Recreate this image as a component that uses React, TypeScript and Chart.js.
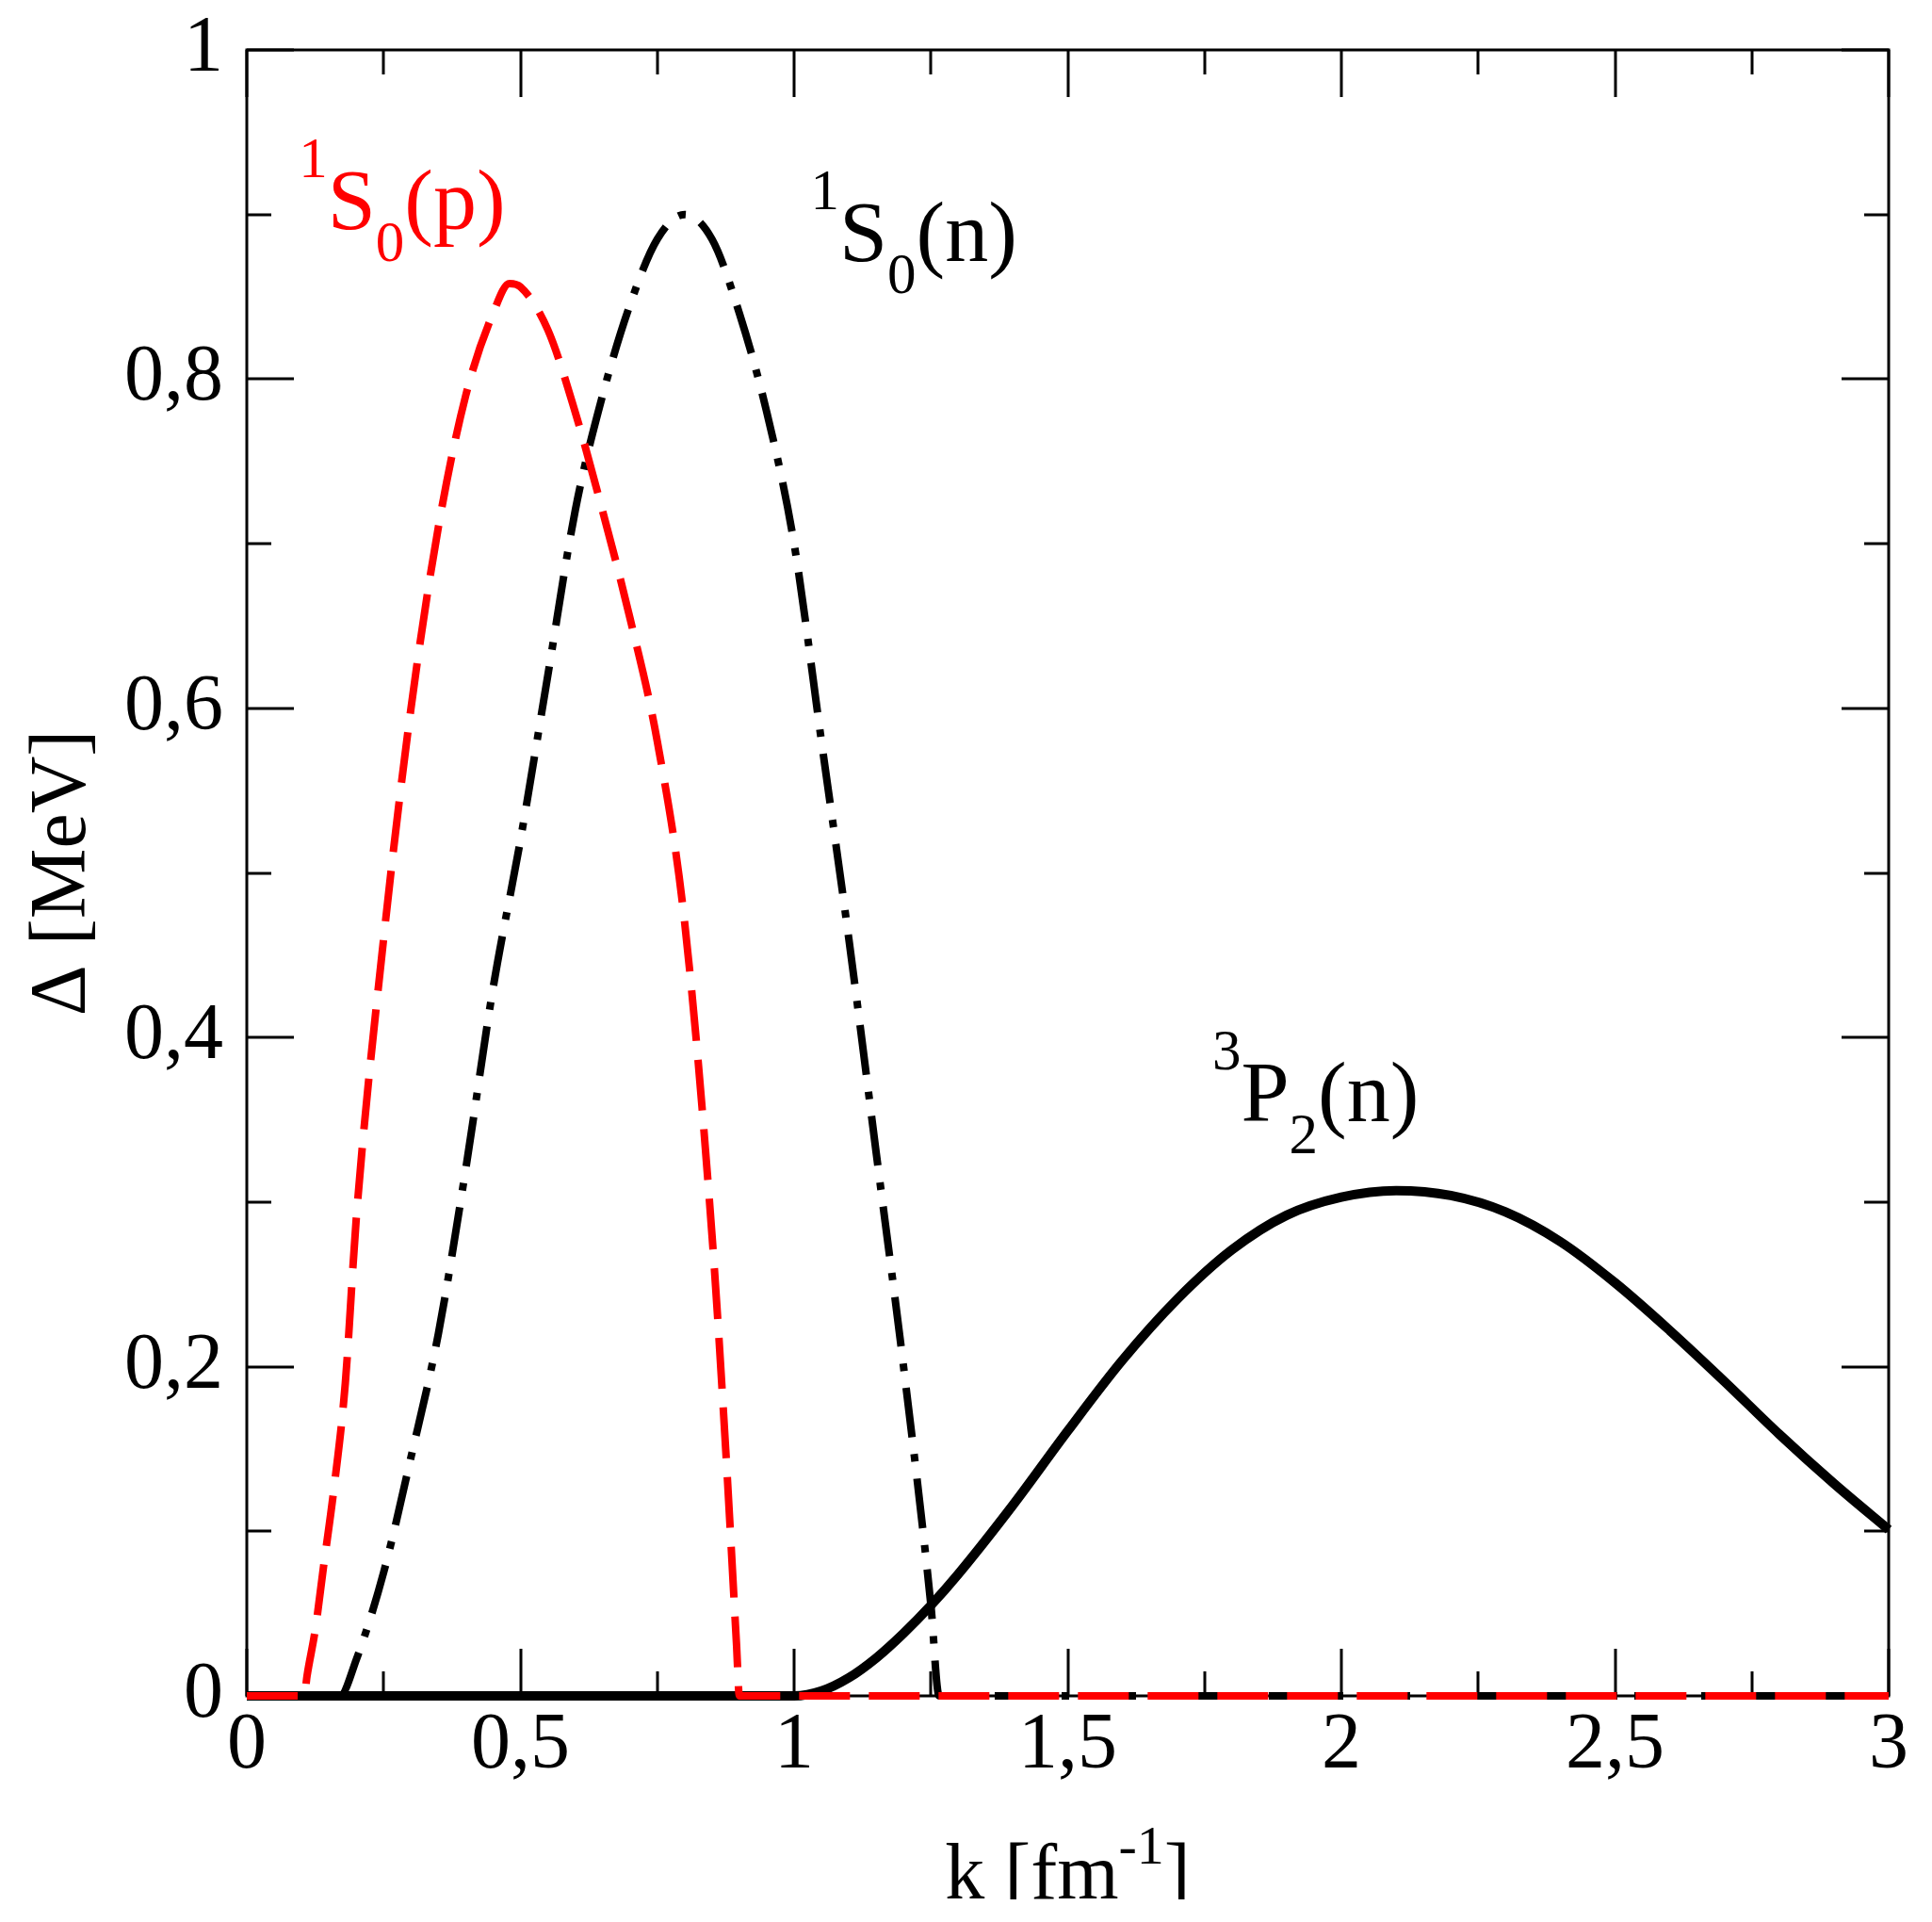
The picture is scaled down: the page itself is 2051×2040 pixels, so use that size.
import React, { useEffect, useRef } from "react";
import { Chart, registerables } from "chart.js";

Chart.register(...registerables);

const W = 2051;
const H = 2040;

// Tick labels (decimal comma as in the original)
const xTickLabels = ["0", "0,5", "1", "1,5", "2", "2,5", "3"];
const yTickLabels = ["0", "0,2", "0,4", "0,6", "0,8", "1"];

// 1S0 proton gap (red dashed)
const s0pK = [0, 0.105, 0.11, 0.125, 0.14, 0.16, 0.18, 0.2, 0.25, 0.3, 0.35, 0.4, 0.45, 0.48, 0.5, 0.55, 0.6, 0.65, 0.7, 0.75, 0.8, 0.85, 0.875, 0.895, 0.9, 3];
const s0pGap = [0, 0, 0.012, 0.04, 0.078, 0.128, 0.19, 0.29, 0.46, 0.6, 0.71, 0.79, 0.84, 0.858, 0.856, 0.83, 0.78, 0.72, 0.655, 0.58, 0.47, 0.28, 0.15, 0.03, 0, 0];

// 1S0 neutron gap (black dash-dot)
const s0nK = [0, 0.17, 0.2, 0.25, 0.3, 0.35, 0.4, 0.45, 0.5, 0.55, 0.6, 0.65, 0.7, 0.75, 0.8, 0.85, 0.9, 0.95, 1.0, 1.05, 1.1, 1.15, 1.2, 1.25, 1.265, 3];
const s0nGap = [0, 0, 0.022, 0.075, 0.145, 0.22, 0.32, 0.43, 0.52, 0.62, 0.72, 0.79, 0.845, 0.885, 0.9, 0.885, 0.84, 0.78, 0.7, 0.58, 0.46, 0.33, 0.2, 0.055, 0, 0];

// 3P2 neutron gap (black solid)
const p2nK = [0, 1.0, 1.05, 1.1, 1.15, 1.2, 1.25, 1.3, 1.4, 1.5, 1.6, 1.7, 1.8, 1.9, 2.0, 2.1, 2.2, 2.3, 2.4, 2.5, 2.6, 2.7, 2.8, 2.9, 3.0];
const p2nGap = [0, 0, 0.003, 0.011, 0.023, 0.038, 0.055, 0.074, 0.116, 0.161, 0.204, 0.241, 0.271, 0.292, 0.303, 0.307, 0.304, 0.294, 0.276, 0.251, 0.222, 0.191, 0.159, 0.129, 0.101];

// Curve labels: superscript, main letter, subscript, tail
const labelSup = ["1", "1", "3"];
const labelMain = ["S", "S", "P"];
const labelSub = ["0", "0", "2"];
const labelTail = ["(p)", "(n)", "(n)"];
const labelK = [0.095, 1.03, 1.764];
const labelY = [0.891, 0.872, 0.349];
const labelColor = ["#ff0000", "#000000", "#000000"];

const FONT = '"Liberation Serif", "Times New Roman", serif';

const toPts = (xs: number[], ys: number[]) => xs.map((x, i) => ({ x, y: ys[i] }));

type Part = { t: string; size: number; dy: number };

function drawParts(ctx: CanvasRenderingContext2D, x: number, y: number, parts: Part[]) {
  let cx = x;
  for (const p of parts) {
    ctx.font = `${p.size}px ${FONT}`;
    ctx.fillText(p.t, cx, y + p.dy);
    cx += ctx.measureText(p.t).width;
  }
}

function partsWidth(ctx: CanvasRenderingContext2D, parts: Part[]) {
  let w = 0;
  for (const p of parts) {
    ctx.font = `${p.size}px ${FONT}`;
    w += ctx.measureText(p.t).width;
  }
  return w;
}

const framePlugin = {
  id: "frameTicks",
  beforeDatasetsDraw(chart: any) {
    const { ctx, chartArea: a, scales } = chart;
    const xs = scales.x;
    const ys = scales.y;
    ctx.save();
    ctx.strokeStyle = "#000";
    ctx.lineWidth = 3;
    ctx.lineCap = "butt";
    ctx.strokeRect(a.left, a.top, a.right - a.left, a.bottom - a.top);
    ctx.beginPath();
    for (let i = 0; i <= 12; i++) {
      const px = Math.round(xs.getPixelForValue(i * 0.25));
      const len = i % 2 === 0 ? 50 : 26;
      ctx.moveTo(px, a.bottom);
      ctx.lineTo(px, a.bottom - len);
      ctx.moveTo(px, a.top);
      ctx.lineTo(px, a.top + len);
    }
    for (let i = 0; i <= 10; i++) {
      const py = Math.round(ys.getPixelForValue(i * 0.1));
      const len = i % 2 === 0 ? 50 : 26;
      ctx.moveTo(a.left, py);
      ctx.lineTo(a.left + len, py);
      ctx.moveTo(a.right, py);
      ctx.lineTo(a.right - len, py);
    }
    ctx.stroke();
    ctx.restore();
  },
  afterDraw(chart: any) {
    const { ctx, chartArea: a, scales } = chart;
    const xs = scales.x;
    const ys = scales.y;
    ctx.save();
    ctx.textAlign = "left";
    ctx.textBaseline = "alphabetic";

    // curve labels
    for (let i = 0; i < labelMain.length; i++) {
      ctx.fillStyle = labelColor[i];
      const x = xs.getPixelForValue(labelK[i]);
      const y = ys.getPixelForValue(labelY[i]);
      drawParts(ctx, x, y, [
        { t: labelSup[i], size: 61, dy: -55 },
        { t: labelMain[i], size: 92, dy: 0 },
        { t: labelSub[i], size: 61, dy: 34 },
        { t: labelTail[i], size: 92, dy: 0 },
      ]);
    }

    // x axis title: k [fm^-1]
    ctx.fillStyle = "#000";
    const xParts: Part[] = [
      { t: "k [fm", size: 84, dy: 0 },
      { t: "-1", size: 58, dy: -37 },
      { t: "]", size: 84, dy: 0 },
    ];
    const cx = (a.left + a.right) / 2;
    const wx = partsWidth(ctx, xParts);
    ctx.save();
    ctx.beginPath();
    ctx.rect(0, 0, W, 2016);
    ctx.clip();
    drawParts(ctx, cx - wx / 2, 2015, xParts);
    ctx.restore();

    // y axis title
    ctx.save();
    ctx.translate(90, (a.top + a.bottom) / 2);
    ctx.rotate(-Math.PI / 2);
    ctx.textAlign = "center";
    ctx.font = `84px ${FONT}`;
    ctx.fillText("\u0394 [MeV]", 0, 0);
    ctx.restore();

    ctx.restore();
  },
};

export default function App() {
  const ref = useRef<HTMLCanvasElement | null>(null);

  useEffect(() => {
    if (!ref.current) return;
    const chart = new Chart(ref.current, {
      type: "line",
      data: {
        datasets: [
          {
            label: "1S0(p)",
            data: toPts(s0pK, s0pGap),
            borderColor: "#ff0000",
            borderWidth: 8,
            borderDash: [54, 20],
            borderCapStyle: "butt",
            pointRadius: 0,
            cubicInterpolationMode: "monotone",
            fill: false,
            clip: false as any,
          },
          {
            label: "1S0(n)",
            data: toPts(s0nK, s0nGap),
            borderColor: "#000000",
            borderWidth: 8,
            borderDash: [53, 18, 8, 18],
            borderCapStyle: "butt",
            pointRadius: 0,
            cubicInterpolationMode: "monotone",
            fill: false,
            clip: false as any,
          },
          {
            label: "3P2(n)",
            data: toPts(p2nK, p2nGap),
            borderColor: "#000000",
            borderWidth: 10,
            borderCapStyle: "butt",
            pointRadius: 0,
            cubicInterpolationMode: "monotone",
            fill: false,
            clip: false as any,
          },
        ],
      },
      options: {
        animation: false,
        responsive: false,
        devicePixelRatio: 1,
        layout: { padding: { top: 53, right: 46, left: 0, bottom: 0 } },
        plugins: {
          legend: { display: false },
          tooltip: { enabled: false },
          title: { display: false },
        },
        scales: {
          x: {
            type: "linear",
            min: 0,
            max: 3,
            afterFit: (s: any) => {
              s.height = 240;
              s.paddingLeft = 0;
              s.paddingRight = 0;
            },
            grid: { display: false, drawTicks: false },
            border: { display: false },
            ticks: {
              stepSize: 0.5,
              autoSkip: false,
              maxRotation: 0,
              padding: 4,
              color: "#000",
              font: { family: FONT, size: 84 },
              callback: (_v: any, i: number) => xTickLabels[i],
            },
          },
          y: {
            type: "linear",
            min: 0,
            max: 1,
            afterFit: (s: any) => {
              s.width = 262;
              s.paddingTop = 0;
              s.paddingBottom = 0;
            },
            grid: { display: false, drawTicks: false },
            border: { display: false },
            ticks: {
              stepSize: 0.2,
              autoSkip: false,
              padding: 25,
              color: "#000",
              font: { family: FONT, size: 84 },
              callback: (_v: any, i: number) => yTickLabels[i],
            },
          },
        },
      },
      plugins: [framePlugin],
    });
    return () => chart.destroy();
  }, []);

  return (
    <div style={{ position: "fixed", left: 0, top: 0, width: W, height: H, background: "#fff" }}>
      <canvas ref={ref} width={W} height={H} style={{ display: "block", width: W, height: H }} />
    </div>
  );
}
